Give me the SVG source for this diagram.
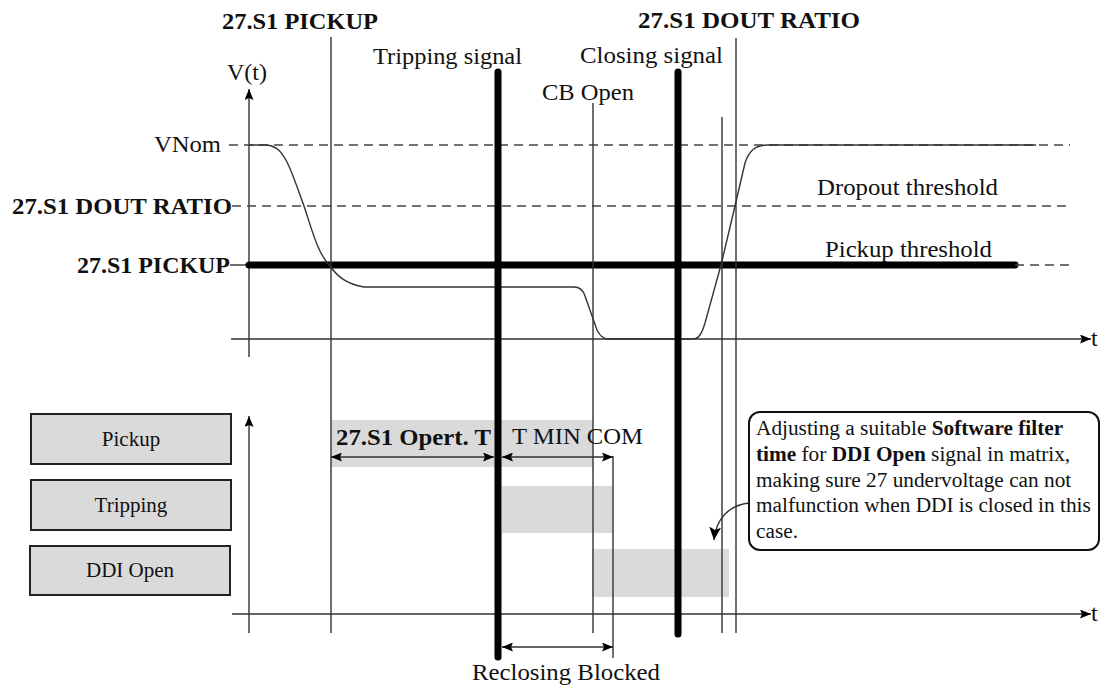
<svg xmlns="http://www.w3.org/2000/svg" width="1102" height="689" viewBox="0 0 1102 689">
<style>
text{font-family:"Liberation Serif","Times New Roman",serif;fill:#111;}
.b{font-weight:bold;}
.t24{font-size:24px;}
.t21{font-size:21px;}
.c21{font-size:21.3px;}
.thin{stroke:#333;stroke-width:1.4;fill:none;}
.dash{stroke:#444;stroke-width:1.4;stroke-dasharray:9 6;fill:none;}
.thick{stroke:#000;stroke-width:7;stroke-linecap:round;fill:none;}
.band{fill:#dadada;}
.box{fill:#dadada;stroke:#222;stroke-width:2;}
</style>
<defs>
<marker id="ah" viewBox="0 0 11 9" refX="11" refY="4.5" markerWidth="11" markerHeight="9" markerUnits="userSpaceOnUse" orient="auto-start-reverse">
<path d="M0,0 L11,4.5 L0,9 L2,4.5 z" fill="#000"/>
</marker>
<marker id="ahc" viewBox="0 0 13 12" refX="13" refY="6" markerWidth="13" markerHeight="12" markerUnits="userSpaceOnUse" orient="auto">
<path d="M0,0 L13,6 L0,12 L3,6 z" fill="#000"/>
</marker>
</defs>
<rect width="1102" height="689" fill="#fff"/>

<g id="bands">
<rect class="band" x="331" y="420" width="262" height="47"/>
<rect class="band" x="502" y="486" width="111" height="47"/>
<rect class="band" x="592" y="549" width="137" height="48"/>
</g>

<g id="axes">
<line class="thin" x1="249" y1="357" x2="249" y2="89" marker-end="url(#ah)"/>
<line class="thin" x1="231" y1="339" x2="1091" y2="339" marker-end="url(#ah)"/>
<text class="t24" x="1091" y="346">t</text>
<text class="t24" x="227" y="80" textLength="40" lengthAdjust="spacingAndGlyphs">V(t)</text>
<line class="thin" x1="249" y1="633" x2="249" y2="416" marker-end="url(#ah)"/>
<line class="thin" x1="232" y1="614" x2="1091" y2="614" marker-end="url(#ah)"/>
<text class="t24" x="1091" y="621">t</text>
</g>

<g id="thresholds">
<line class="dash" x1="229" y1="145" x2="1070" y2="145"/>
<text class="t24" x="154" y="152" textLength="67" lengthAdjust="spacingAndGlyphs">VNom</text>
<line class="dash" x1="232" y1="206" x2="1070" y2="206"/>
<text class="t24 b" x="12" y="214" textLength="220" lengthAdjust="spacingAndGlyphs">27.S1 DOUT RATIO</text>
<text class="t24" x="817" y="195" textLength="181" lengthAdjust="spacingAndGlyphs">Dropout threshold</text>
<line class="thin" x1="230" y1="265" x2="249" y2="265"/>
<line class="thick" x1="249" y1="265" x2="1015" y2="265"/>
<line class="dash" x1="1015" y1="265" x2="1070" y2="265"/>
<text class="t24 b" x="77" y="273" textLength="153" lengthAdjust="spacingAndGlyphs">27.S1 PICKUP</text>
<text class="t24" x="825" y="257" textLength="167" lengthAdjust="spacingAndGlyphs">Pickup threshold</text>
</g>

<g id="voltage-curve">
<path class="thin" d="M249,145 L266,145 C278,146 282,153 287,162 C293,174 298,190 304,206 C312,230 318,254 330,266 C337,276 346,284 364,287 L574,287 C580,287 583,290 585,296 L597,330 C600,336 603,339 608,339 L693,339 C699,339 702,333 705,323 L721,265 L735,206 L745,163 C749,151 755,145 768,145 L1036,145"/>
</g>

<g id="event-lines">
<line class="thin" x1="331" y1="37" x2="331" y2="633"/>
<text class="t24 b" x="222" y="29" textLength="156" lengthAdjust="spacingAndGlyphs">27.S1 PICKUP</text>
<line class="thick" x1="498" y1="72" x2="498" y2="657"/>
<text class="t24" x="373" y="64" textLength="149" lengthAdjust="spacingAndGlyphs">Tripping signal</text>
<line class="thin" x1="593" y1="103" x2="593" y2="633"/>
<text class="t24" x="542" y="100" textLength="92" lengthAdjust="spacingAndGlyphs">CB Open</text>
<line class="thick" x1="678" y1="72" x2="678" y2="634"/>
<text class="t24" x="580" y="63" textLength="143" lengthAdjust="spacingAndGlyphs">Closing signal</text>
<line class="thin" x1="722" y1="117" x2="722" y2="633"/>
<line class="thin" x1="736" y1="38" x2="736" y2="633"/>
<text class="t24 b" x="638" y="28" textLength="222" lengthAdjust="spacingAndGlyphs">27.S1 DOUT RATIO</text>
<line class="thin" x1="613" y1="456" x2="613" y2="658"/>
</g>

<g id="signals">
<g id="node-pickup">
<rect class="box" x="31" y="414" width="200" height="50"/>
<text class="t21" x="131" y="446" text-anchor="middle">Pickup</text>
</g>
<g id="node-tripping">
<rect class="box" x="31" y="480" width="200" height="50"/>
<text class="t21" x="131" y="512" text-anchor="middle">Tripping</text>
</g>
<g id="node-ddi">
<rect class="box" x="30" y="546" width="200" height="49"/>
<text class="t21" x="130" y="577" text-anchor="middle">DDI Open</text>
</g>
</g>

<g id="connectors">
<line class="thin" x1="331" y1="457" x2="494" y2="457" marker-start="url(#ah)" marker-end="url(#ah)"/>
<line class="thin" x1="502" y1="457" x2="613" y2="457" marker-start="url(#ah)" marker-end="url(#ah)"/>
<line class="thin" x1="502" y1="647" x2="613" y2="647" marker-start="url(#ah)" marker-end="url(#ah)"/>
<path class="thin" stroke-width="2" d="M749,503 C730,505 716,518 714,540" marker-end="url(#ahc)"/>
</g>

<g id="timing-labels">
<text class="t24 b" x="336" y="445" textLength="155" lengthAdjust="spacingAndGlyphs">27.S1 Opert. T</text>
<text class="t24" x="512" y="444" textLength="131" lengthAdjust="spacingAndGlyphs">T MIN COM</text>
<text class="t24" x="472" y="680" textLength="188" lengthAdjust="spacingAndGlyphs">Reclosing Blocked</text>
</g>

<g id="callout">
<rect x="749" y="412" width="350" height="138" rx="11" ry="11" fill="#fff" stroke="#111" stroke-width="2"/>
<text class="c21" x="756" y="435">Adjusting a suitable <tspan class="b">Software filter</tspan></text>
<text class="c21" x="756" y="461"><tspan class="b">time</tspan> for <tspan class="b">DDI Open</tspan> signal in matrix,</text>
<text class="c21" x="756" y="487">making sure 27 undervoltage can not</text>
<text class="c21" x="756" y="512">malfunction when DDI is closed in this</text>
<text class="c21" x="756" y="538">case.</text>
</g>
</svg>
